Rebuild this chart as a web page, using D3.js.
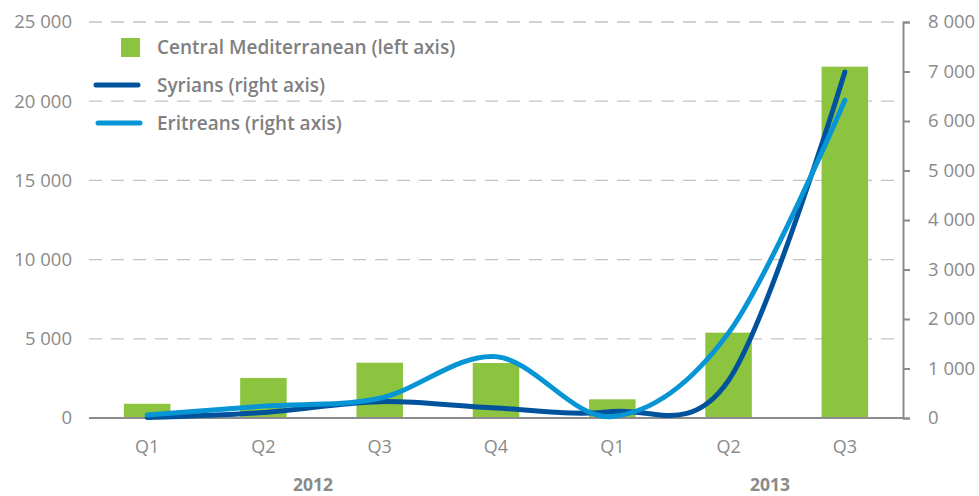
<!DOCTYPE html>
<html>
<head>
<meta charset="utf-8">
<script src="https://cdn.jsdelivr.net/npm/d3@7"></script>
<style>
  body { margin: 0; background: #fff; }
  svg text { font-family: "Open Sans", sans-serif; fill: #8a8a8a; }
</style>
</head>
<body>
<div id="chart"></div>
<script>
var quarters = ["Q1", "Q2", "Q3", "Q4", "Q1", "Q2", "Q3"];
var years = ["2012", "2013"];
var centralMed = [900, 2530, 3490, 3470, 1180, 5390, 22180];
var syrians = [10, 110, 330, 200, 130, 760, 6990];
var eritreans = [60, 240, 400, 1240, 30, 1720, 6420];
var leftTicks = [0, 5000, 10000, 15000, 20000, 25000];
var rightTicks = [0, 1000, 2000, 3000, 4000, 5000, 6000, 7000, 8000];

(function() {
var width = 979, height = 496;
var plotLeft = 89, plotRight = 903, plotTop = 22, plotBottom = 418;

var svg = d3.select("#chart").append("svg")
  .attr("width", width)
  .attr("height", height);

var x = d3.scaleBand()
  .domain(d3.range(quarters.length))
  .range([plotLeft, plotRight])
  .paddingInner(0.6)
  .paddingOuter(0.3);

var yL = d3.scaleLinear().domain([0, 25000]).range([plotBottom, plotTop]);
var yR = d3.scaleLinear().domain([0, 8000]).range([plotBottom, plotTop]);

function fmt(v) { return d3.format(",")(v).replace(/,/g, " "); }

// gridlines (dashed)
svg.append("g")
  .selectAll("line")
  .data(leftTicks.slice(1))
  .enter().append("line")
  .attr("x1", plotLeft)
  .attr("x2", plotRight)
  .attr("y1", function(d) { return yL(d); })
  .attr("y2", function(d) { return yL(d); })
  .attr("stroke", "#c4c4c4")
  .attr("stroke-width", 1.3)
  .attr("stroke-dasharray", "13,9");

// left axis labels
svg.append("g")
  .selectAll("text")
  .data(leftTicks)
  .enter().append("text")
  .attr("x", 72)
  .attr("y", function(d) { return yL(d); })
  .attr("dy", "0.35em")
  .attr("text-anchor", "end")
  .style("font-size", "18.5px")
  .text(fmt);

// bars
svg.append("g")
  .selectAll("rect")
  .data(centralMed)
  .enter().append("rect")
  .attr("x", function(d, i) { return x(i); })
  .attr("width", x.bandwidth())
  .attr("y", function(d) { return yL(d); })
  .attr("height", function(d) { return plotBottom - yL(d); })
  .attr("fill", "#8cc43f");

// baseline
svg.append("line")
  .attr("x1", plotLeft).attr("x2", plotRight)
  .attr("y1", plotBottom).attr("y2", plotBottom)
  .attr("stroke", "#8c8c8c")
  .attr("stroke-width", 2);

// right axis
var rAxis = svg.append("g")
  .attr("transform", "translate(" + plotRight + ",0)")
  .call(d3.axisRight(yR).tickValues(rightTicks).tickSize(7).tickPadding(18).tickFormat(fmt));
rAxis.select(".domain").attr("stroke", "#8c8c8c").attr("stroke-width", 2);
rAxis.selectAll(".tick line").attr("stroke", "#8c8c8c").attr("stroke-width", 2);
rAxis.selectAll(".tick text")
  .style("font-size", "18.5px")
  .style("font-family", "Open Sans, sans-serif")
  .attr("fill", "#8a8a8a");

// lines
var line = d3.line()
  .x(function(d, i) { return x(i) + x.bandwidth() / 2; })
  .y(function(d) { return yR(d); })
  .curve(d3.curveCatmullRom.alpha(0));

svg.append("path")
  .datum(syrians)
  .attr("d", line)
  .attr("fill", "none")
  .attr("stroke", "#00529c")
  .attr("stroke-width", 5)
  .attr("stroke-linecap", "round");

svg.append("path")
  .datum(eritreans)
  .attr("d", line)
  .attr("fill", "none")
  .attr("stroke", "#0795d6")
  .attr("stroke-width", 5)
  .attr("stroke-linecap", "round");

// x labels
svg.append("g")
  .selectAll("text")
  .data(quarters)
  .enter().append("text")
  .attr("x", function(d, i) { return x(i) + x.bandwidth() / 2; })
  .attr("y", 453)
  .attr("text-anchor", "middle")
  .style("font-size", "18px")
  .text(function(d) { return d; });

// year labels
var yearX = [313, 770];
svg.append("g")
  .selectAll("text")
  .data(years)
  .enter().append("text")
  .attr("x", function(d, i) { return yearX[i]; })
  .attr("y", 491)
  .attr("text-anchor", "middle")
  .style("font-size", "17.5px")
  .style("font-weight", "700")
  .text(function(d) { return d; });

// legend
var legend = svg.append("g");
legend.append("rect")
  .attr("x", 121).attr("y", 38)
  .attr("width", 19).attr("height", 19)
  .attr("fill", "#8cc43f");
legend.append("line")
  .attr("x1", 96).attr("x2", 138)
  .attr("y1", 85).attr("y2", 85)
  .attr("stroke", "#00529c").attr("stroke-width", 5).attr("stroke-linecap", "round");
legend.append("line")
  .attr("x1", 98).attr("x2", 140)
  .attr("y1", 123).attr("y2", 123)
  .attr("stroke", "#0795d6").attr("stroke-width", 5).attr("stroke-linecap", "round");

var legendLabels = ["Central Mediterranean (left axis)", "Syrians (right axis)", "Eritreans (right axis)"];
var legendY = [47, 85, 123];
legend.selectAll("text.lab")
  .data(legendLabels)
  .enter().append("text")
  .attr("class", "lab")
  .attr("x", 157)
  .attr("y", function(d, i) { return legendY[i]; })
  .attr("dy", "0.35em")
  .style("font-size", "19px")
  .style("font-weight", "600")
  .style("fill", "#7f7f7f")
  .text(function(d) { return d; });
})();
</script>
</body>
</html>
